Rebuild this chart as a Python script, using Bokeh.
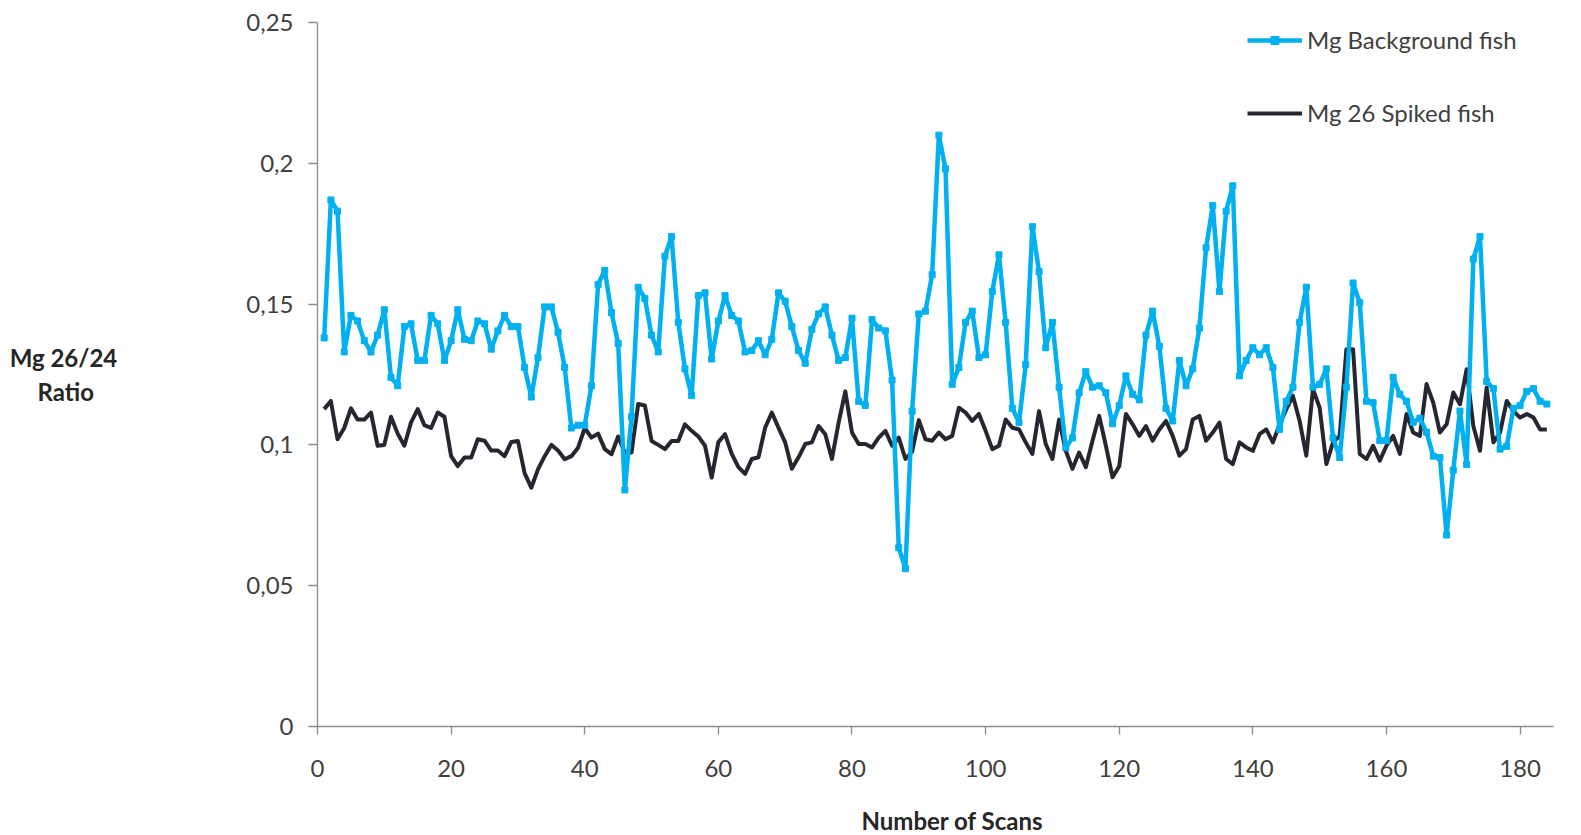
from bokeh.plotting import figure
from bokeh.models import Range1d, FixedTicker, Legend, LegendItem, ColumnDataSource, Title
from bokeh.embed import file_html
from bokeh.resources import INLINE

scans = list(range(1, 185))

mg_background = [
    0.138, 0.187, 0.183, 0.133, 0.146, 0.144, 0.137, 0.133, 0.139, 0.148,
    0.124, 0.121, 0.142, 0.143, 0.130, 0.130, 0.146, 0.143, 0.130, 0.137,
    0.148, 0.1375, 0.137, 0.144, 0.143, 0.134, 0.1405, 0.146, 0.142, 0.142,
    0.1275, 0.117, 0.131, 0.149, 0.149, 0.140, 0.1275, 0.106, 0.107, 0.107,
    0.121, 0.157, 0.162, 0.147, 0.136, 0.084, 0.110, 0.156, 0.152, 0.139,
    0.133, 0.167, 0.174, 0.1435, 0.127, 0.1175, 0.153, 0.154, 0.1305, 0.144,
    0.153, 0.146, 0.144, 0.133, 0.1335, 0.137, 0.132, 0.1375, 0.154, 0.151,
    0.142, 0.1335, 0.129, 0.141, 0.1465, 0.149, 0.139, 0.130, 0.131, 0.145,
    0.1155, 0.114, 0.1445, 0.1415, 0.1405, 0.123, 0.0635, 0.056, 0.112, 0.1465,
    0.1475, 0.1605, 0.210, 0.198, 0.1215, 0.1275, 0.1435, 0.1475, 0.131, 0.132,
    0.1545, 0.1675, 0.1435, 0.113, 0.108, 0.1285, 0.1775, 0.1615, 0.1345, 0.1435,
    0.1205, 0.099, 0.1025, 0.1185, 0.126, 0.1205, 0.121, 0.1185, 0.1075, 0.114,
    0.1245, 0.118, 0.116, 0.139, 0.1475, 0.135, 0.113, 0.1085, 0.130, 0.121,
    0.127, 0.1415, 0.170, 0.185, 0.1545, 0.183, 0.192, 0.1245, 0.130, 0.1345,
    0.132, 0.1345, 0.1275, 0.1055, 0.1155, 0.1205, 0.1435, 0.156, 0.1205, 0.1215,
    0.127, 0.1025, 0.0955, 0.1205, 0.1575, 0.1505, 0.1155, 0.115, 0.1015, 0.1015,
    0.124, 0.118, 0.1155, 0.108, 0.1095, 0.1045, 0.096, 0.0955, 0.068, 0.091,
    0.112, 0.093, 0.166, 0.174, 0.1225, 0.120, 0.0985, 0.0995, 0.113, 0.114,
    0.119, 0.120, 0.1155, 0.1145,
]

mg26_spiked = [
    0.1127, 0.1156, 0.102, 0.106, 0.113, 0.109, 0.109, 0.1115, 0.0997, 0.100,
    0.110, 0.104, 0.0997, 0.108, 0.1127, 0.107, 0.106, 0.1115, 0.110, 0.096,
    0.0925, 0.0955, 0.0955, 0.102, 0.1015, 0.098, 0.098, 0.096, 0.101, 0.1014,
    0.090, 0.0848, 0.0913, 0.096, 0.100, 0.098, 0.0949, 0.096, 0.099, 0.106,
    0.1026, 0.104, 0.0985, 0.0967, 0.103, 0.0973, 0.0973, 0.1145, 0.114, 0.1014,
    0.100, 0.0985, 0.1014, 0.1014, 0.1073, 0.105, 0.103, 0.0997, 0.0884, 0.101,
    0.1038, 0.0968, 0.0921, 0.0897, 0.095, 0.0956, 0.1061, 0.1115, 0.1061, 0.1009,
    0.0915, 0.0956, 0.1003, 0.1009, 0.1067, 0.1038, 0.095, 0.1079, 0.119, 0.1044,
    0.1003, 0.1003, 0.0991, 0.1026, 0.105, 0.0997, 0.1026, 0.095, 0.0976, 0.1088,
    0.102, 0.1015, 0.1044, 0.102, 0.1032, 0.1132, 0.1115, 0.1085, 0.111, 0.105,
    0.0985, 0.0997, 0.109, 0.1061, 0.1055, 0.1009, 0.0968, 0.112, 0.1003, 0.095,
    0.109, 0.0979, 0.0915, 0.0973, 0.0921, 0.1015, 0.1103, 0.0997, 0.0885, 0.0924,
    0.111, 0.1073, 0.1032, 0.1067, 0.1015, 0.1055, 0.1085, 0.1032, 0.0962, 0.0985,
    0.109, 0.1103, 0.1015, 0.1044, 0.1079, 0.095, 0.0932, 0.1009, 0.0991, 0.0979,
    0.1038, 0.1055, 0.1009, 0.1073, 0.1126, 0.1174, 0.1085, 0.0962, 0.1198, 0.1132,
    0.0932, 0.1009, 0.1032, 0.134, 0.134, 0.0968, 0.095, 0.0997, 0.0944, 0.0997,
    0.1032, 0.0968, 0.111, 0.1044, 0.1032, 0.1216, 0.115, 0.1044, 0.1073, 0.1186,
    0.1144, 0.1269, 0.1067, 0.0979, 0.1204, 0.1009, 0.1044, 0.1156, 0.112, 0.1097,
    0.111, 0.1097, 0.1055, 0.1055,
]

x_ticks = [0, 20, 40, 60, 80, 100, 120, 140, 160, 180]
y_ticks = [0, 0.05, 0.1, 0.15, 0.2, 0.25]
y_tick_labels = ["0", "0,05", "0,1", "0,15", "0,2", "0,25"]
series_names = ["Mg Background fish", "Mg 26 Spiked fish"]
x_title = "Number of Scans"
y_title_lines = ["Mg 26/24", "Ratio"]

FONT = "Lato"
BLUE = "#00B0F0"
DARK = "#262630"
TICK_COLOR = "#404040"
TITLE_COLOR = "#262626"
AXIS_COLOR = "#8C8C8C"

src = ColumnDataSource(dict(x=scans, bg=mg_background, sp=mg26_spiked))

p = figure(
    frame_width=1236, frame_height=704,
    min_border_left=317, min_border_right=12, min_border_top=22, min_border_bottom=100,
    x_range=Range1d(0, 185), y_range=Range1d(0, 0.25),
    output_backend="svg", toolbar_location=None,
)
p.outline_line_color = None
p.xgrid.visible = False
p.ygrid.visible = False
p.background_fill_color = "white"
p.border_fill_color = "white"

r_sp = p.line("x", "sp", source=src, line_color=DARK, line_width=4, line_join="round")
r_bg = p.line("x", "bg", source=src, line_color=BLUE, line_width=4.5, line_join="round")
r_bgm = p.scatter("x", "bg", source=src, marker="square", size=6, fill_color=BLUE, line_color=BLUE)

for ax in (p.xaxis[0], p.yaxis[0]):
    ax.axis_line_color = AXIS_COLOR
    ax.axis_line_width = 1.3
    ax.major_tick_line_color = AXIS_COLOR
    ax.major_tick_line_width = 1.3
    ax.minor_tick_line_color = None
    ax.major_tick_in = 0
    ax.major_label_text_font = FONT
    ax.major_label_text_font_size = "24px"
    ax.major_label_text_color = TICK_COLOR

p.xaxis.ticker = FixedTicker(ticks=x_ticks)
p.xaxis.major_tick_out = 8
p.xaxis.major_label_standoff = 25

p.yaxis.ticker = FixedTicker(ticks=y_ticks)
p.yaxis.major_label_overrides = {t: l for t, l in zip(y_ticks, y_tick_labels)}
p.yaxis.major_tick_out = 9
p.yaxis.major_label_standoff = 15

# second line padded with no-break spaces so both lines look centred
p.yaxis.axis_label = y_title_lines[0] + "\n" + y_title_lines[1] + "\u00a0" * 4
p.yaxis.axis_label_orientation = "horizontal"
p.yaxis.axis_label_standoff = 126
p.yaxis.axis_label_text_font = FONT
p.yaxis.axis_label_text_font_size = "24px"
p.yaxis.axis_label_text_font_style = "bold"
p.yaxis.axis_label_text_color = TITLE_COLOR

p.add_layout(Title(text=x_title, align="left", offset=544, standoff=48,
                   text_font=FONT, text_font_size="24px", text_font_style="bold",
                   text_color=TITLE_COLOR), "below")

legend = Legend(
    items=[LegendItem(label=series_names[0], renderers=[r_bg, r_bgm]),
           LegendItem(label=series_names[1], renderers=[r_sp])],
    location=(930, 599),
    orientation="vertical",
    glyph_width=55, glyph_height=20, label_height=20,
    spacing=44, label_standoff=5, padding=0, margin=0,
    border_line_alpha=0, background_fill_alpha=0,
    label_text_font=FONT, label_text_font_size="24px", label_text_color=TICK_COLOR,
)
p.add_layout(legend)

open("out.html", "w").write(file_html(p, INLINE))
